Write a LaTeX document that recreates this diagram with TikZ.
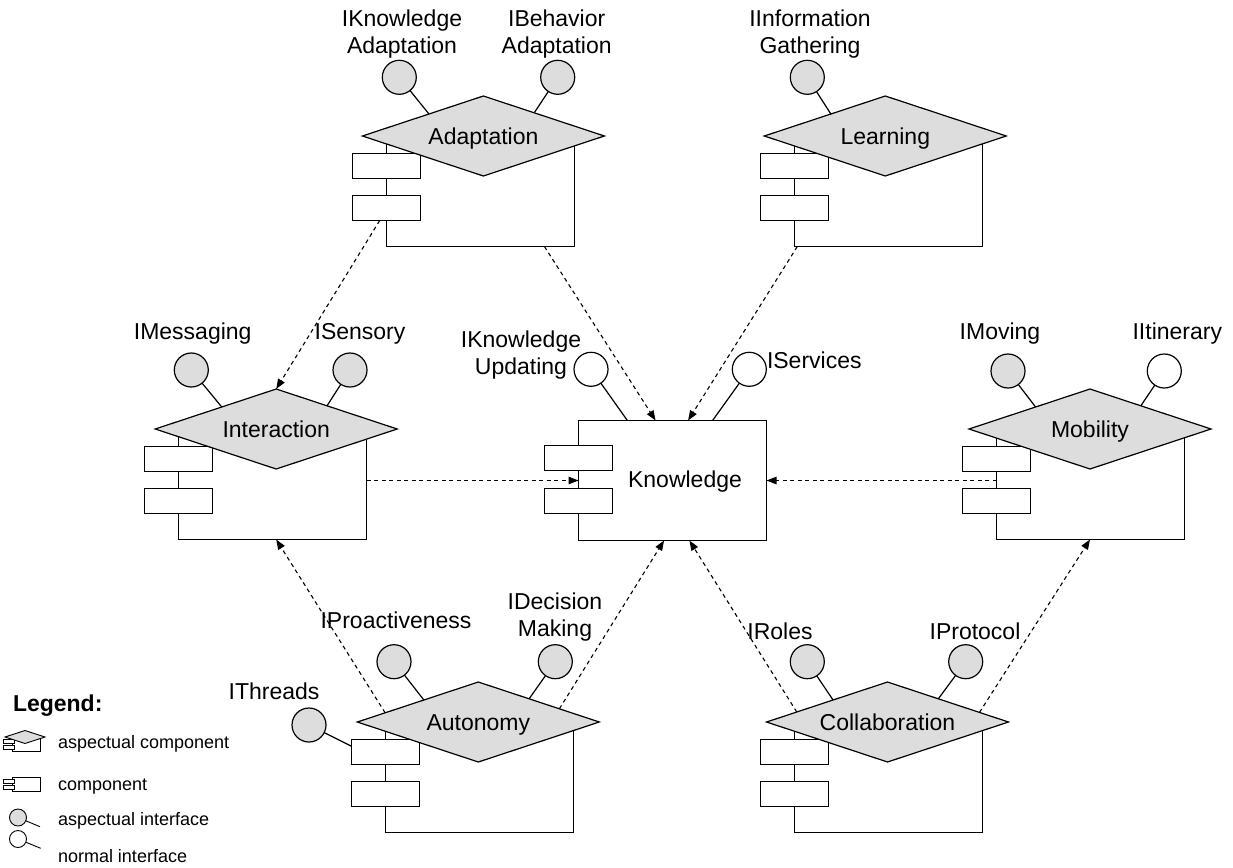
\documentclass[tikz,border=0pt]{standalone}
\usepackage{fontspec}
\setmainfont{Liberation Sans}
\usetikzlibrary{shapes.geometric,arrows.meta,calc}
\definecolor{aspgray}{RGB}{221,221,221}

\tikzset{
  compbody/.style={draw, fill=white, line width=1.2pt, inner sep=0pt, outer sep=0pt},
  port/.style={draw, fill=white, line width=1.2pt, minimum width=68pt, minimum height=25pt, inner sep=0pt, outer sep=0pt},
  aspectbox/.style={diamond, draw, fill=aspgray, line width=1.2pt, aspect=3,
    minimum width=242pt, minimum height=80pt, inner sep=0pt, outer sep=0pt,
    text height=16.5pt, text depth=0pt},
  aspifc/.style={circle, draw, fill=aspgray, line width=1.2pt, minimum size=34pt, inner sep=0pt, outer sep=0pt},
  normifc/.style={aspifc, fill=white},
  ifcline/.style={line width=1.2pt},
  dep/.style={line width=1.1pt, dash pattern=on 4pt off 3.5pt, -{Triangle[length=10pt,width=7.5pt]}},
  lbl/.style={inner sep=0pt, outer sep=0pt},
  leglbl/.style={lbl, anchor=base west, font=\fontsize{18}{21}\selectfont},
  legicon/.style={draw, line width=0.9pt},
}

% aspectual component: #1 name, #2/#3 centre of the diamond, #4 left edge of the body, #5 title
\newcommand\aspcomp[5]{%
  \node[compbody, minimum width=188pt, minimum height=110.5pt, anchor=north west] (#1body) at (#4,#3) {};
  \node[port] (#1r1) at (#4,{#3+30}) {};
  \node[port] (#1r2) at (#4,{#3+72}) {};
  \node[aspectbox] (#1) at (#2,#3) {#5};
}

\begin{document}
\begin{tikzpicture}[x=1pt, y=-1pt, font=\fontsize{23}{27}\selectfont]
\useasboundingbox (0,0) rectangle (1233,867);

% ---------- components ----------
\aspcomp{adapt}{483.4}{136}{386.5}{Adaptation}
\aspcomp{learn}{885.3}{136}{794.5}{Learning}
\aspcomp{inter}{276.2}{429}{178.5}{Interaction}
\aspcomp{mob}{1090}{429}{996.5}{Mobility}
\aspcomp{auto}{478.3}{722}{385.5}{Autonomy}
\aspcomp{collab}{887.5}{722}{794.5}{Collaboration}

\node[compbody, minimum width=188pt, minimum height=120pt] (know) at (672.5,480.5) {};
\node[port] (knowr1) at (578.5,458) {};
\node[port] (knowr2) at (578.5,501) {};
\node[lbl, anchor=base] (knowlbl) at (685,487.7) {Knowledge};

% ---------- interfaces ----------
\node[aspifc] (ika) at (399.3,77.3) {};
\node[aspifc] (iba) at (557.7,77.3) {};
\draw[ifcline] (ika) -- ($(adapt.north)!0.45!(adapt.west)$);
\draw[ifcline] (iba) -- ($(adapt.north)!0.42!(adapt.east)$);
\node[lbl, align=center, anchor=north] (ikaL) at (402,9.5) {IKnowledge\\Adaptation};
\node[lbl, align=center, anchor=north] (ibaL) at (556.7,9.5) {IBehavior\\Adaptation};

\node[aspifc] (iig) at (807.3,77.3) {};
\draw[ifcline] (iig) -- ($(learn.north)!0.45!(learn.west)$);
\node[lbl, align=center, anchor=north] (iigL) at (810,9.5) {IInformation\\Gathering};

\node[aspifc] (imsg) at (191.3,370) {};
\node[aspifc] (isen) at (350,370) {};
\draw[ifcline] (imsg) -- ($(inter.north)!0.45!(inter.west)$);
\draw[ifcline] (isen) -- ($(inter.north)!0.42!(inter.east)$);
\node[lbl, anchor=base] (imsgL) at (192.7,339.7) {IMessaging};
\node[lbl, anchor=base] (isenL) at (360,339.7) {ISensory};

\node[aspifc] (imov) at (1008,371) {};
\node[normifc] (iitin) at (1164.3,371) {};
\draw[ifcline] (imov) -- ($(mob.north)!0.45!(mob.west)$);
\draw[ifcline] (iitin) -- ($(mob.north)!0.42!(mob.east)$);
\node[lbl, anchor=base] (imovL) at (1000,339.7) {IMoving};
\node[lbl, anchor=base] (iitinL) at (1177.3,339.7) {IItinerary};

\node[normifc] (iku) at (591,369.3) {};
\node[normifc] (isrv) at (749.3,369.3) {};
\draw[ifcline] (iku) -- ($(know.north west)!0.26!(know.north east)$);
\draw[ifcline] (isrv) -- ($(know.north west)!0.713!(know.north east)$);
\node[lbl, align=center, anchor=north] (ikuL) at (521,330.5) {IKnowledge\\Updating};
\node[lbl, anchor=base west] (isrvL) at (767,368) {IServices};

\node[aspifc] (ipro) at (394,661.7) {};
\node[aspifc] (idm) at (555.3,661.7) {};
\node[aspifc] (ithr) at (309,725) {};
\draw[ifcline] (ipro) -- ($(auto.north)!0.45!(auto.west)$);
\draw[ifcline] (idm) -- ($(auto.north)!0.42!(auto.east)$);
\draw[ifcline] (ithr) -- ($(autor1.north west)!0.27!(autor1.south west)$);
\node[lbl, anchor=base] (iproL) at (396,628.7) {IProactiveness};
\node[lbl, align=center, anchor=north] (idmL) at (555,592.5) {IDecision\\Making};
\node[lbl, anchor=base] (ithrL) at (274,699.7) {IThreads};

\node[aspifc] (irol) at (807.3,661.7) {};
\node[aspifc] (iprt) at (965.7,661.7) {};
\draw[ifcline] (irol) -- ($(collab.north)!0.45!(collab.west)$);
\draw[ifcline] (iprt) -- ($(collab.north)!0.42!(collab.east)$);
\node[lbl, anchor=base] (irolL) at (780,639.7) {IRoles};
\node[lbl, anchor=base] (iprtL) at (975,639.7) {IProtocol};

% ---------- dependencies ----------
\draw[dep] ($(adaptr2.south west)!0.4!(adaptr2.south east)$) -- (inter.north);
\draw[dep] ($(adaptbody.south west)!0.84!(adaptbody.south east)$) -- ($(know.north west)!0.41!(know.north east)$);
\draw[dep] ($(learnbody.south west)!0.015!(learnbody.south east)$) -- ($(know.north west)!0.583!(know.north east)$);
\draw[dep] (interbody.east |- know.west) -- (know.west);
\draw[dep] (mobbody.west |- know.east) -- (know.east);
\draw[dep] ($(auto.west)!0.23!(auto.north)$) -- (inter |- interbody.south);
\draw[dep] ($(auto.north)!0.67!(auto.east)$) -- ($(know.south west)!0.455!(know.south east)$);
\draw[dep] ($(collab.west)!0.25!(collab.north)$) -- ($(know.south west)!0.59!(know.south east)$);
\draw[dep] ($(collab.north)!0.76!(collab.east)$) -- (mob |- mobbody.south);

% ---------- legend ----------
\node[lbl, anchor=base west, font=\bfseries\fontsize{23}{27}\selectfont] (legtitle) at (13,711) {Legend:};

\draw[legicon, fill=white] (12.5,737) rectangle (40,751.5);
\draw[legicon, fill=white] (3,739) rectangle (14,743);
\draw[legicon, fill=white] (3,745) rectangle (14,749);
\draw[legicon, fill=aspgray] (5,737) -- (25,730.5) -- (45,737) -- (25,743.5) -- cycle;
\node[leglbl] (leg1) at (58,748) {aspectual component};

\draw[legicon, fill=white] (12.5,777) rectangle (40,791.5);
\draw[legicon, fill=white] (3,779.5) rectangle (14,783.5);
\draw[legicon, fill=white] (3,785.5) rectangle (14,789.5);
\node[leglbl] (leg2) at (58,790) {component};

\node[circle, legicon, fill=aspgray, minimum size=17pt, inner sep=0pt, outer sep=0pt] (legA) at (18,817.5) {};
\coordinate (legAend) at (40,826.7);
\draw[line width=0.9pt] (legA) -- (legAend);
\node[leglbl] (leg3) at (58,825.7) {aspectual interface};

\node[circle, legicon, fill=white, minimum size=17pt, inner sep=0pt, outer sep=0pt] (legN) at (18,839) {};
\coordinate (legNend) at (40.7,848.3);
\draw[line width=0.9pt] (legN) -- (legNend);
\node[leglbl] (leg4) at (58,862.7) {normal interface};
\end{tikzpicture}
\end{document}
